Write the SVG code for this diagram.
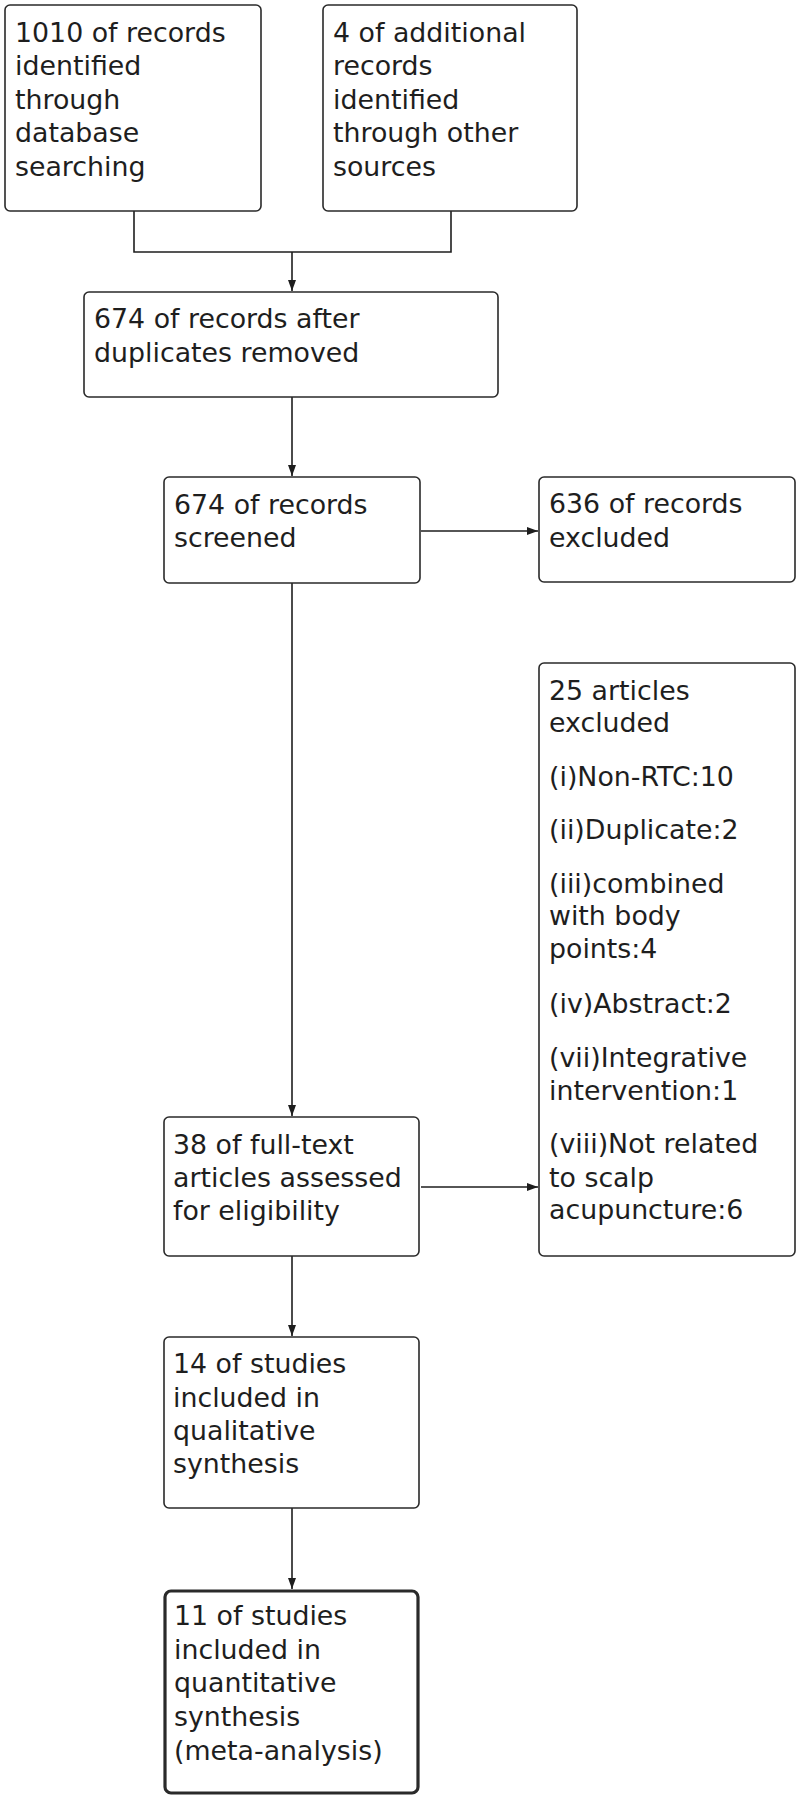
<svg xmlns="http://www.w3.org/2000/svg" width="800" height="1801" viewBox="0 0 800 1801">
<style>
.box{fill:#fff;stroke:#2a2a2a;stroke-width:1.6}
.bold{stroke-width:3.2}
.t{font-family:"DejaVu Sans","Liberation Sans",sans-serif;font-size:26.8px;fill:#1e1e1e}
.c{fill:none;stroke:#1e1e1e;stroke-width:1.6}
</style>
<defs>
<marker id="ah" markerUnits="userSpaceOnUse" markerWidth="12" markerHeight="10" refX="11" refY="4.5" orient="auto">
<path d="M0,0.5 L11,4.5 L0,8.5 z" fill="#1e1e1e"/>
</marker>
</defs>
<rect width="800" height="1801" fill="#fff"/>
<g id="connectors">
<polyline class="c" points="134,211 134,252 451,252 451,211"/>
<line class="c" x1="292" y1="252" x2="292" y2="291" marker-end="url(#ah)"/>
<line class="c" x1="292" y1="397" x2="292" y2="476" marker-end="url(#ah)"/>
<line class="c" x1="421" y1="531" x2="538" y2="531" marker-end="url(#ah)"/>
<line class="c" x1="292" y1="583" x2="292" y2="1116" marker-end="url(#ah)"/>
<line class="c" x1="421" y1="1187" x2="538" y2="1187" marker-end="url(#ah)"/>
<line class="c" x1="292" y1="1256" x2="292" y2="1336" marker-end="url(#ah)"/>
<line class="c" x1="292" y1="1508" x2="292" y2="1589" marker-end="url(#ah)"/>
</g>
<g id="n1">
<rect class="box" x="5" y="5" width="256" height="206" rx="5"/>
<text class="t" x="15"><tspan x="15" y="42">1010 of records</tspan><tspan x="15" y="75">identified</tspan><tspan x="15" y="109">through</tspan><tspan x="15" y="142">database</tspan><tspan x="15" y="176">searching</tspan></text>
</g>
<g id="n2">
<rect class="box" x="323" y="5" width="254" height="206" rx="5"/>
<text class="t"><tspan x="333" y="42">4 of additional</tspan><tspan x="333" y="75">records</tspan><tspan x="333" y="109">identified</tspan><tspan x="333" y="142">through other</tspan><tspan x="333" y="176">sources</tspan></text>
</g>
<g id="n3">
<rect class="box" x="84" y="292" width="414" height="105" rx="5"/>
<text class="t"><tspan x="94" y="328">674 of records after</tspan><tspan x="94" y="362">duplicates removed</tspan></text>
</g>
<g id="n4">
<rect class="box" x="164" y="477" width="256" height="106" rx="5"/>
<text class="t"><tspan x="174" y="514">674 of records</tspan><tspan x="174" y="547">screened</tspan></text>
</g>
<g id="n5">
<rect class="box" x="539" y="477" width="256" height="105" rx="5"/>
<text class="t"><tspan x="549" y="513">636 of records</tspan><tspan x="549" y="547">excluded</tspan></text>
</g>
<g id="n6">
<rect class="box" x="539" y="663" width="256" height="593" rx="5"/>
<text class="t"><tspan x="549" y="700">25 articles</tspan><tspan x="549" y="732">excluded</tspan><tspan x="549" y="786">(i)Non-RTC:10</tspan><tspan x="549" y="839">(ii)Duplicate:2</tspan><tspan x="549" y="893">(iii)combined</tspan><tspan x="549" y="925">with body</tspan><tspan x="549" y="958">points:4</tspan><tspan x="549" y="1013">(iv)Abstract:2</tspan><tspan x="549" y="1067">(vii)Integrative</tspan><tspan x="549" y="1100">intervention:1</tspan><tspan x="549" y="1153">(viii)Not related</tspan><tspan x="549" y="1187">to scalp</tspan><tspan x="549" y="1219">acupuncture:6</tspan></text>
</g>
<g id="n7">
<rect class="box" x="164" y="1117" width="255" height="139" rx="5"/>
<text class="t"><tspan x="173" y="1154">38 of full-text</tspan><tspan x="173" y="1187">articles assessed</tspan><tspan x="173" y="1220">for eligibility</tspan></text>
</g>
<g id="n8">
<rect class="box" x="164" y="1337" width="255" height="171" rx="5"/>
<text class="t"><tspan x="173" y="1373">14 of studies</tspan><tspan x="173" y="1407">included in</tspan><tspan x="173" y="1440">qualitative</tspan><tspan x="173" y="1473">synthesis</tspan></text>
</g>
<g id="n9">
<rect class="box bold" x="165" y="1591" width="253" height="202" rx="6"/>
<text class="t"><tspan x="174" y="1625">11 of studies</tspan><tspan x="174" y="1659">included in</tspan><tspan x="174" y="1692">quantitative</tspan><tspan x="174" y="1726">synthesis</tspan><tspan x="174" y="1760">(meta-analysis)</tspan></text>
</g>
</svg>
